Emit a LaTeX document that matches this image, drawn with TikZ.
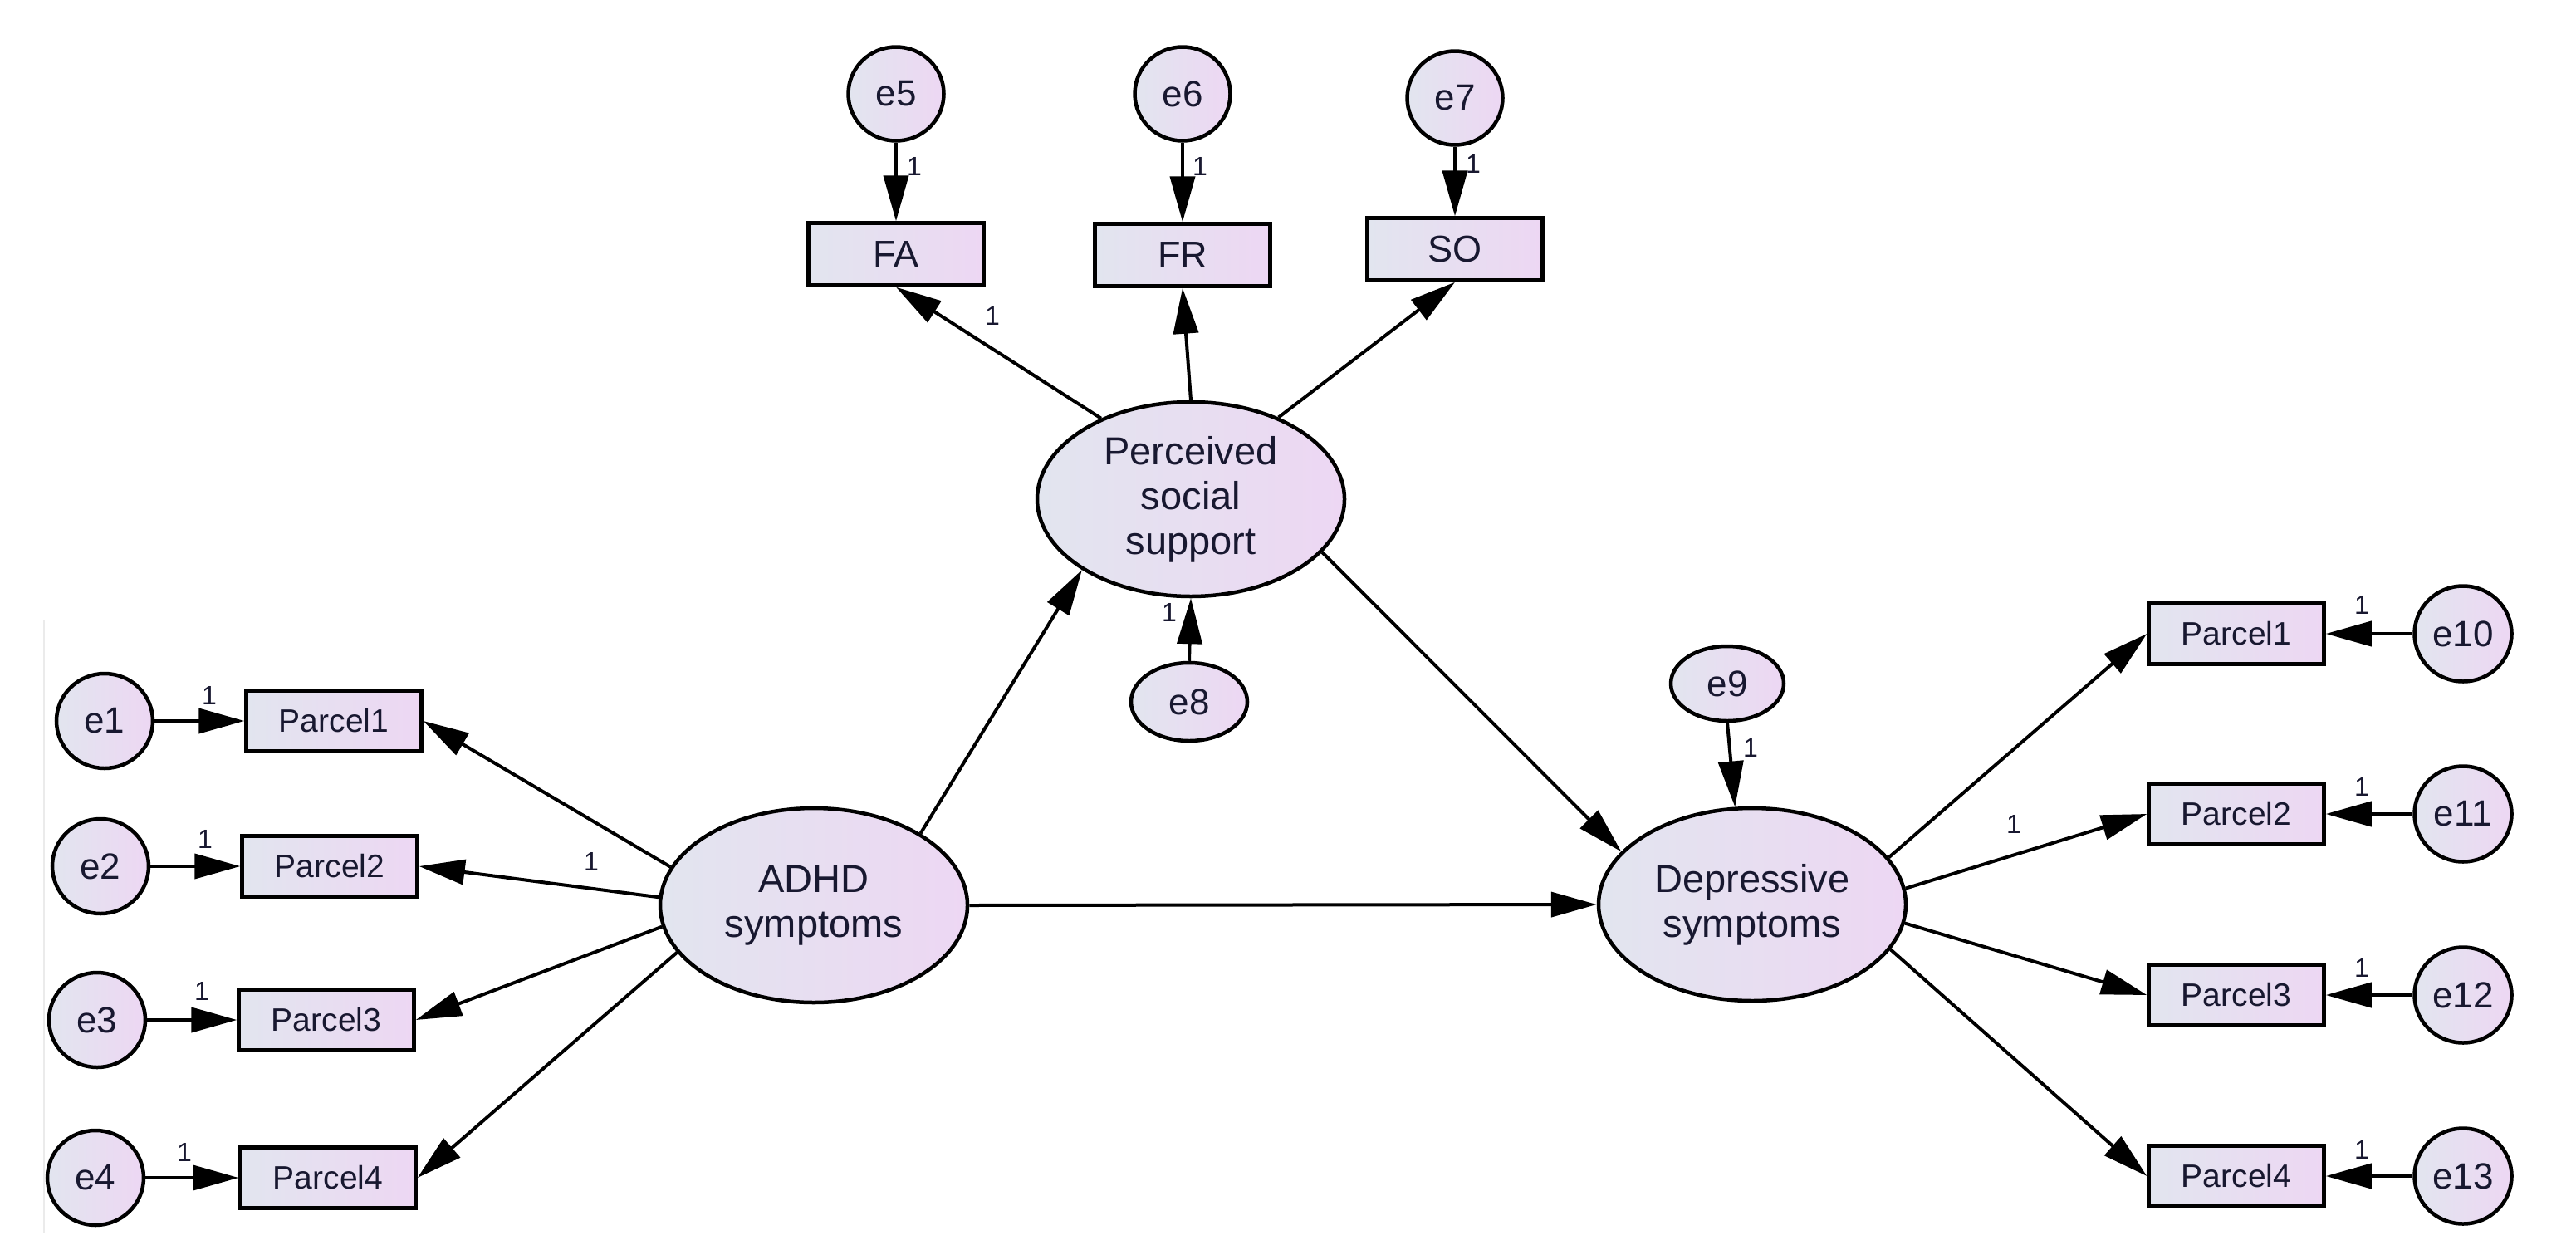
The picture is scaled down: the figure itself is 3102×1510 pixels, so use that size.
\documentclass[tikz,border=0pt]{standalone}
\usepackage{fontspec}
\setmainfont{Liberation Sans}
\usetikzlibrary{shapes.geometric,arrows.meta}
\definecolor{fillL}{RGB}{226,229,239}
\definecolor{fillR}{RGB}{237,215,243}
\definecolor{txt}{RGB}{24,24,48}
\tikzset{
  x=1pt, y=-1pt,
  every node/.style={text=txt, inner sep=0pt},
  shaded/.style={left color=fillL, right color=fillR, draw=black, line width=4.5pt},
  errc/.style={shaded, ellipse, minimum width=116pt, minimum height=114pt, font=\fontsize{44}{50}\selectfont},
  erro/.style={shaded, ellipse, font=\fontsize{44}{50}\selectfont},
  latent/.style={shaded, ellipse, minimum width=370pt, minimum height=234pt, align=center, font=\fontsize{47}{54}\selectfont},
  obsbox/.style={shaded, rectangle, minimum width=211pt, minimum height=73pt, font=\fontsize{39}{45}\selectfont},
  obsbig/.style={obsbox, minimum height=75pt, font=\fontsize{45}{50}\selectfont},
  path/.style={draw=black, line width=4pt, -{Triangle[length=55pt,width=30pt]}},
  wlab/.style={font=\fontsize{32}{34}\selectfont, text=txt}
}
\begin{document}
\begin{tikzpicture}
\useasboundingbox[fill=white] (0,0) rectangle (3102,1510);
\draw[black!8, line width=2pt] (53,746) -- (53,1485);

% latent variables
\node[latent] (pss) at (1434,601) {Perceived\\social\\support};
\node[latent] (adhd) at (980,1090) {ADHD\\symptoms};
\node[latent, minimum height=232pt] (dep) at (2110,1089) {Depressive\\symptoms};

% top indicators
\node[obsbig] (fa) at (1079,306) {FA};
\node[obsbig] (fr) at (1424,307) {FR};
\node[obsbig] (so) at (1752,300) {SO};
\node[errc, minimum width=115pt, minimum height=113pt] (e5) at (1079,113) {e5};
\node[errc, minimum width=115pt, minimum height=113pt] (e6) at (1424,113) {e6};
\node[errc, minimum width=115pt, minimum height=113pt] (e7) at (1752,118) {e7};

% disturbances
\node[erro, minimum width=140pt, minimum height=94pt] (e8) at (1432,845) {e8};
\node[erro, minimum width=136pt, minimum height=90pt] (e9) at (2080,823) {e9};

% left indicators
\node[obsbox] (p1) at (402,868) {Parcel1};
\node[obsbox] (p2) at (397,1043) {Parcel2};
\node[obsbox] (p3) at (393,1228) {Parcel3};
\node[obsbox] (p4) at (395,1418) {Parcel4};
\node[errc] (e1) at (126,868) {e1};
\node[errc] (e2) at (121,1043) {e2};
\node[errc] (e3) at (117,1228) {e3};
\node[errc] (e4) at (115,1418) {e4};

% right indicators
\node[obsbox] (q1) at (2693,763) {Parcel1};
\node[obsbox] (q2) at (2693,980) {Parcel2};
\node[obsbox] (q3) at (2693,1198) {Parcel3};
\node[obsbox] (q4) at (2693,1416) {Parcel4};
\node[errc, minimum width=117pt, minimum height=115pt] (e10) at (2966,763) {e10};
\node[errc, minimum width=117pt, minimum height=115pt] (e11) at (2966,980) {e11};
\node[errc, minimum width=117pt, minimum height=115pt] (e12) at (2966,1198) {e12};
\node[errc, minimum width=117pt, minimum height=115pt] (e13) at (2966,1416) {e13};

% structural paths
\draw[path] (adhd.34) -- (pss.213);
\draw[path] (adhd.east) -- (dep.west);
\draw[path] (pss.-22) -- (dep.158);
\draw[path] (e8.north) -- (pss.south);
\draw[path] (e9.south) -- (dep.100);

% measurement paths
\draw[path] (pss.138) -- (fa.south);
\draw[path] (pss.north) -- (fr.south);
\draw[path] (pss.43) -- (so.south);
\draw[path] (e5.south) -- (fa.north);
\draw[path] (e6.south) -- (fr.north);
\draw[path] (e7.south) -- (so.north);

\draw[path] (adhd.165) -- (p1.east);
\draw[path] (adhd.177) -- (p2.east);
\draw[path] (adhd.188) -- (p3.east);
\draw[path] (adhd.199) -- (p4.east);
\draw[path] (e1.east) -- (p1.west);
\draw[path] (e2.east) -- (p2.west);
\draw[path] (e3.east) -- (p3.west);
\draw[path] (e4.east) -- (p4.west);

\draw[path] (dep.19) -- (q1.west);
\draw[path] (dep.6.5) -- (q2.west);
\draw[path] (dep.-7) -- (q3.west);
\draw[path] (dep.-18) -- (q4.west);
\draw[path] (e10.west) -- (q1.east);
\draw[path] (e11.west) -- (q2.east);
\draw[path] (e12.west) -- (q3.east);
\draw[path] (e13.west) -- (q4.east);

% weight labels
\node[wlab] (l5) at (1101,200) {1};
\node[wlab] (l6) at (1445,200) {1};
\node[wlab] (l7) at (1774,197) {1};
\node[wlab] (lfa) at (1195,380) {1};
\node[wlab] (l8) at (1408,737) {1};
\node[wlab] (l9) at (2108,900) {1};
\node[wlab] (lp2) at (712,1037) {1};
\node[wlab] (lq2) at (2425,992) {1};
\node[wlab] (l1) at (252,837) {1};
\node[wlab] (l2) at (247,1010) {1};
\node[wlab] (l3) at (243,1193) {1};
\node[wlab] (l4) at (222,1387) {1};
\node[wlab] (l10) at (2844,728) {1};
\node[wlab] (l11) at (2844,947) {1};
\node[wlab] (l12) at (2844,1165) {1};
\node[wlab] (l13) at (2844,1384) {1};
\end{tikzpicture}
\end{document}
